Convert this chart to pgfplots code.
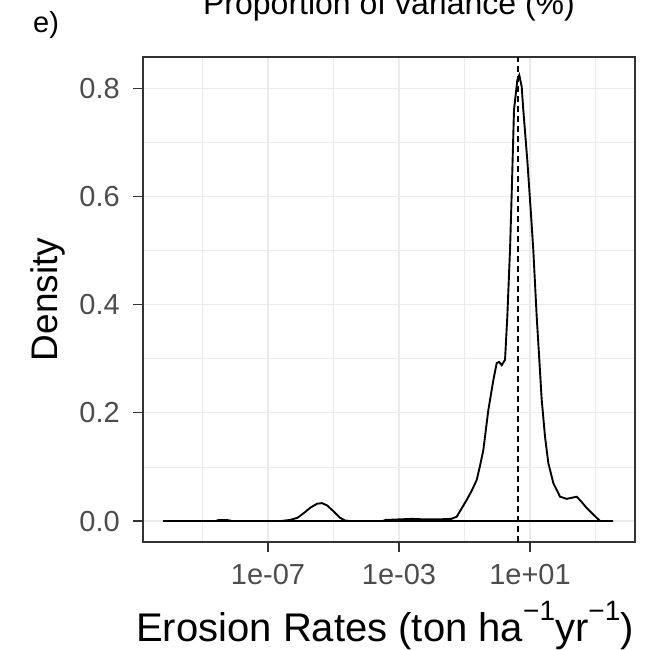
\documentclass[border=0pt]{standalone}
\usepackage{pgfplots}
\pgfplotsset{compat=1.18}
\usepackage{fontspec}
\setmainfont{Liberation Sans}
\definecolor{grey92}{RGB}{235,235,235}
\definecolor{grey20}{RGB}{51,51,51}
\definecolor{grey30}{RGB}{77,77,77}
\newcommand{\sups}[1]{\raisebox{21bp}{\fontsize{28bp}{30bp}\selectfont #1}}
\begin{document}
\begin{tikzpicture}[x=1bp,y=1bp]
\path[use as bounding box] (0,0) rectangle (666,-650);
\begin{axis}[
  at={(143bp,-542bp)}, anchor=south west,
  scale only axis, width=492bp, height=485bp,
  xmin=-10.817, xmax=4.206, ymin=-0.0388, ymax=0.8577,
  xtick={-7,-3,1}, xticklabels={1e-07,1e-03,1e+01},
  minor xtick={-9,-5,-1,3},
  ytick={0,0.2,0.4,0.6,0.8}, yticklabels={0.0,0.2,0.4,0.6,0.8},
  minor ytick={0.1,0.3,0.5,0.7},
  grid=both,
  major grid style={draw=grey92, line width=1.3bp},
  minor grid style={draw=grey92, line width=0.7bp},
  tick align=outside, major tick length=10bp, minor tick length=0bp,
  tick style={draw=grey20, line width=1.2bp},
  axis line style={draw=grey20, line width=1.5bp},
  xtick pos=bottom, ytick pos=left,
  ticklabel style={font=\fontsize{29bp}{31bp}\selectfont, text=grey30, inner sep=0pt},
  xticklabel style={anchor=north, yshift=-12bp},
  yticklabel style={anchor=east, xshift=-13bp},
]
\addplot[black, line width=1.9bp] coordinates {
(-10.206,0) (-8.6,0) (-8.53,0.0015) (-8.38,0.002) (-8.22,0.0015) (-8.1,0)
(-6.6,0) (-6.33,0.002) (-6.1,0.006) (-5.9,0.015) (-5.7,0.025) (-5.5,0.032)
(-5.35,0.033) (-5.2,0.029) (-5.0,0.018) (-4.8,0.006) (-4.65,0.001) (-4.5,0)
(-3.5,0) (-3.4,0.002) (-3.0,0.003) (-2.6,0.004) (-2.2,0.003) (-1.8,0.003)
(-1.4,0.004) (-1.238,0.008) (-1.1,0.022) (-0.933,0.039) (-0.78,0.056)
(-0.627,0.076) (-0.52,0.104) (-0.426,0.131) (-0.273,0.205) (-0.121,0.26)
(-0.017,0.292) (0.06,0.294) (0.136,0.288) (0.237,0.298) (0.307,0.378)
(0.368,0.47) (0.389,0.50) (0.441,0.606) (0.511,0.76) (0.612,0.815)
(0.673,0.824) (0.746,0.803) (0.795,0.76) (0.917,0.667) (1.021,0.575)
(1.101,0.50) (1.204,0.378) (1.284,0.298) (1.357,0.224) (1.458,0.156)
(1.559,0.107) (1.712,0.07) (1.916,0.045) (2.121,0.041) (2.28,0.043)
(2.426,0.045) (2.58,0.035) (2.731,0.024) (2.95,0.011) (3.137,0)
(3.534,0) (-10.206,0)
};
\addplot[black, line width=1.7bp, dash pattern=on 6bp off 4bp] coordinates {(0.634,-0.0388) (0.634,0.8577)};
\end{axis}
\node[anchor=base, font=\fontsize{32bp}{34bp}\selectfont] at (389,-15) {Proportion of variance (\%)};
\node[anchor=base west, inner sep=0pt, font=\fontsize{29bp}{31bp}\selectfont] at (33,-33) {e)};
\node[anchor=base, rotate=90, inner sep=0pt, font=\fontsize{37bp}{39bp}\selectfont] at (57,-299.5) {Density};
\node[anchor=base, inner sep=0pt, font=\fontsize{40bp}{42bp}\selectfont] at (385,-641) {Erosion Rates (ton ha\sups{−1}yr\sups{−1})};
\end{tikzpicture}
\end{document}
